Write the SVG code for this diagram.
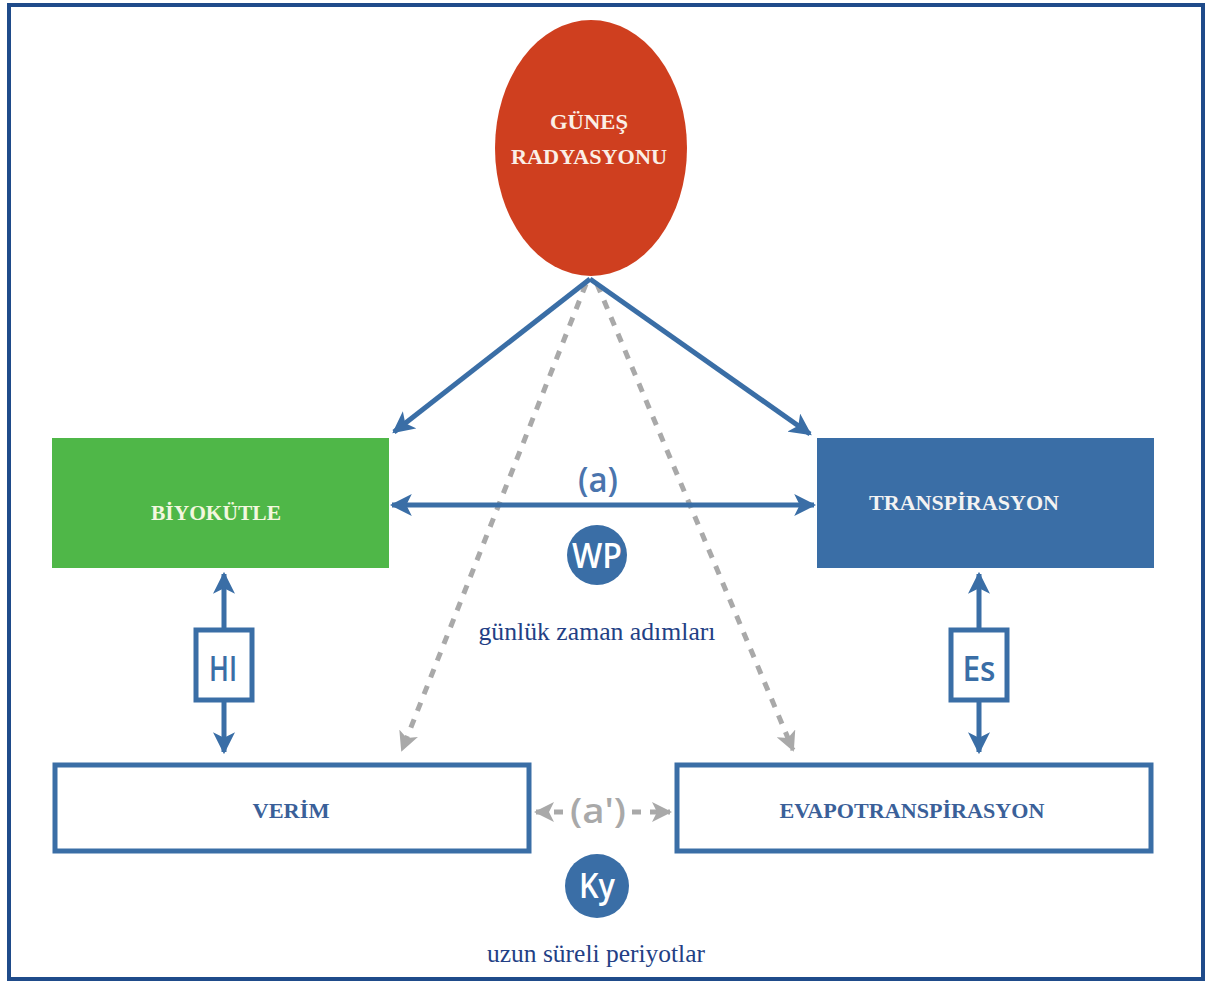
<svg xmlns="http://www.w3.org/2000/svg" width="1212" height="984" viewBox="0 0 1212 984">
<defs>
<marker id="ab" viewBox="0 0 10 10" refX="9" refY="5" markerWidth="22" markerHeight="22" markerUnits="userSpaceOnUse" orient="auto-start-reverse">
<path d="M0,0 L10,5 L0,10 L2.5,5 Z" fill="#3a6ea6"/>
</marker>
<marker id="ag" viewBox="0 0 10 10" refX="9" refY="5" markerWidth="20" markerHeight="20" markerUnits="userSpaceOnUse" orient="auto-start-reverse">
<path d="M0,0 L10,5 L0,10 L2.5,5 Z" fill="#a9a9a9"/>
</marker>
</defs>
<style>
.blue{stroke:#3a6ea6;stroke-width:5;fill:none}
.gray{stroke:#a9a9a9;stroke-width:5;fill:none;stroke-dasharray:9 9}
.cap{font-family:"Liberation Serif",serif;font-weight:bold;font-size:22px;text-anchor:middle}
.sans{font-family:"Open Sans","DejaVu Sans",sans-serif;font-weight:600;text-anchor:middle}
.sub{font-family:"Liberation Serif","Times New Roman",serif;font-size:26px;fill:#233f85;text-anchor:middle}
</style>
<rect x="0" y="0" width="1212" height="984" fill="#ffffff"/>
<rect x="9" y="5" width="1194" height="974" fill="none" stroke="#1f4b8a" stroke-width="4"/>

<g id="connectors">
<line class="gray" x1="586" y1="284" x2="402" y2="750" marker-end="url(#ag)"/>
<line class="gray" x1="597" y1="284" x2="793" y2="750" marker-end="url(#ag)"/>
<line class="blue" x1="590" y1="279" x2="394" y2="432" marker-end="url(#ab)"/>
<line class="blue" x1="590" y1="279" x2="810" y2="434" marker-end="url(#ab)"/>
<line class="blue" x1="392" y1="505" x2="814" y2="505" marker-start="url(#ab)" marker-end="url(#ab)"/>
<line class="blue" x1="224" y1="574" x2="224" y2="752" marker-start="url(#ab)" marker-end="url(#ab)"/>
<line class="blue" x1="979" y1="574" x2="979" y2="752" marker-start="url(#ab)" marker-end="url(#ab)"/>
<line class="gray" x1="536" y1="812" x2="564" y2="812" marker-start="url(#ag)" stroke-dasharray="7 5"/>
<line class="gray" x1="632" y1="812" x2="670" y2="812" marker-end="url(#ag)" stroke-dasharray="7 5"/>
</g>

<g id="sun">
<ellipse cx="591" cy="148" rx="96" ry="128" fill="#cf3f1f"/>
<text class="cap" x="589" y="129" fill="#fbefe6" font-size="25" textLength="78" lengthAdjust="spacingAndGlyphs">GÜNEŞ</text>
<text class="cap" x="589" y="164" fill="#fbefe6" font-size="25" textLength="156" lengthAdjust="spacingAndGlyphs">RADYASYONU</text>
</g>

<g id="biyokutle">
<rect x="52" y="438" width="337" height="130" fill="#4fb748"/>
<text class="cap" x="216" y="520" fill="#f3f7df" font-size="25" textLength="130" lengthAdjust="spacingAndGlyphs">BİYOKÜTLE</text>
</g>

<g id="transpirasyon">
<rect x="817" y="438" width="337" height="130" fill="#3a6ea6"/>
<text class="cap" x="964" y="510" fill="#f3f3f3" font-size="25" textLength="190" lengthAdjust="spacingAndGlyphs">TRANSPİRASYON</text>
</g>

<g id="a-label">
<text class="sans" x="598" y="492" font-size="34" fill="#4a74ad" textLength="40" lengthAdjust="spacingAndGlyphs">(a)</text>
</g>

<g id="wp">
<circle cx="597" cy="555" r="30" fill="#3a6ea6"/>
<text class="sans" x="597" y="568" font-size="34" fill="#ffffff" textLength="50" lengthAdjust="spacingAndGlyphs">WP</text>
<text class="sub" x="597" y="640" textLength="237" lengthAdjust="spacingAndGlyphs">günlük zaman adımları</text>
</g>

<g id="hi">
<rect x="196" y="630" width="56" height="70" fill="#ffffff" stroke="#3a6ea6" stroke-width="5"/>
<text class="sans" x="223" y="681" font-size="34" fill="#3a6ea6" textLength="28" lengthAdjust="spacingAndGlyphs">HI</text>
</g>

<g id="es">
<rect x="951" y="630" width="56" height="70" fill="#ffffff" stroke="#3a6ea6" stroke-width="5"/>
<text class="sans" x="979" y="681" font-size="34" fill="#3a6ea6" textLength="33" lengthAdjust="spacingAndGlyphs">Es</text>
</g>

<g id="verim">
<rect x="55" y="765" width="474" height="86" fill="#ffffff" stroke="#3a6ea6" stroke-width="5"/>
<text class="cap" x="291" y="818" fill="#3a6099" font-size="24" textLength="77" lengthAdjust="spacingAndGlyphs">VERİM</text>
</g>

<g id="evapotranspirasyon">
<rect x="677" y="765" width="474" height="86" fill="#ffffff" stroke="#3a6ea6" stroke-width="5"/>
<text class="cap" x="912" y="818" fill="#3a6099" font-size="24" textLength="265" lengthAdjust="spacingAndGlyphs">EVAPOTRANSPİRASYON</text>
</g>

<g id="a-prime">
<text class="sans" x="598" y="823" font-size="34" fill="#a9a9a9" textLength="56" lengthAdjust="spacingAndGlyphs">(a')</text>
</g>

<g id="ky">
<circle cx="597" cy="886" r="32" fill="#3a6ea6"/>
<text class="sans" x="597" y="898" font-size="34" fill="#ffffff" textLength="36" lengthAdjust="spacingAndGlyphs">Ky</text>
<text class="sub" x="596" y="962" textLength="218" lengthAdjust="spacingAndGlyphs">uzun süreli periyotlar</text>
</g>
</svg>
